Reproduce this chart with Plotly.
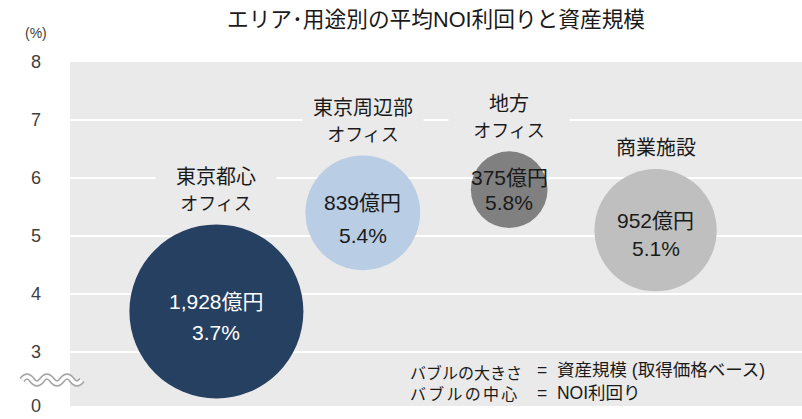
import math
import plotly.graph_objects as go

# ---- data ----
cat_line1 = ["東京都心", "東京周辺部", "地方", "商業施設"]
cat_line2 = ["オフィス", "オフィス", "オフィス", ""]
asset_oku = [1928, 839, 375, 952]          # 資産規模（億円）
noi_yield = [3.7, 5.4, 5.8, 5.1]           # NOI利回り（%）
tick_vals = [3, 4, 5, 6, 7, 8]
tick_text = ["3", "4", "5", "6", "7", "8"]
axis_floor_label = "0"

# ---- styles ----
colors = ["#264061", "#B9CDE5", "#808080", "#BFBFBF"]
text_colors = ["#FFFFFF", "#1A1A1A", "#1A1A1A", "#1A1A1A"]
amount_shift = [10, 10, 12, 10]
pct_shift = [-21, -23, -13, -18]
SIZEREF = 0.1274
FONT = "Liberation Sans, Arial, 'Noto Sans CJK JP', sans-serif"
PLOT_BG = "#EAEAEA"
Y_BOTTOM = 2.07
L, T, W, H = 70, 62, 732, 344   # plot area in px

xpos = list(range(1, len(cat_line1) + 1))

fig = go.Figure()
fig.add_trace(go.Scatter(
    x=xpos, y=noi_yield, mode="markers",
    marker=dict(size=asset_oku, sizemode="area", sizeref=SIZEREF,
                color=colors, opacity=1, line=dict(width=0)),
    hoverinfo="skip", showlegend=False,
))

ann = []
for x, y, v, c1, c2, tc, a_s, p_s in zip(xpos, noi_yield, asset_oku, cat_line1,
                                         cat_line2, text_colors, amount_shift, pct_shift):
    r = math.sqrt(v / (2 * SIZEREF))
    ann.append(dict(x=x, y=y, text=f"{v:,}億円", showarrow=False, yshift=a_s,
                    font=dict(size=21, color=tc, family=FONT)))
    ann.append(dict(x=x, y=y, text=f"{y:.1f}%", showarrow=False, yshift=p_s,
                    font=dict(size=21, color=tc, family=FONT)))
    label = c1 if not c2 else f"{c1}<br><span style=\"font-size:18px\">{c2}</span>"
    ann.append(dict(x=x, y=y, text=label, showarrow=False, yanchor="bottom",
                    yshift=r + 8, width=118, bgcolor=PLOT_BG,
                    font=dict(size=20, color="#1A1A1A", family=FONT)))

# axis unit
ann.append(dict(xref="paper", yref="paper", x=0, y=1, xanchor="center",
                yanchor="bottom", xshift=-34, yshift=19, text="(%)",
                showarrow=False, font=dict(size=14, color="#404040", family=FONT)))
# note
gap = "<span style=\"font-size:8px\"> </span>"
ann.append(dict(xref="paper", yref="paper", x=0, y=0, xanchor="left",
                yanchor="bottom", xshift=338, yshift=1, align="left",
                text="バブルの大きさ<br>" + gap.join("バブルの中心"),
                showarrow=False, font=dict(size=16, color="#1A1A1A", family=FONT)))
ann.append(dict(xref="paper", yref="paper", x=0, y=0, xanchor="left",
                yanchor="bottom", xshift=465, yshift=1, align="left",
                text="=  資産規模 (取得価格ベース)<br>=  NOI利回り", showarrow=False,
                font=dict(size=17.5, color="#1A1A1A", family=FONT)))


# axis break mark (decoration, px -> paper coordinates)
def px(xp, yp):
    return f"{(xp - L) / W:.5f},{(T + H - yp) / H:.5f}"


x0, yc, amp = 22, 380, 3.4
d = f"M {px(x0, yc)} Q {px(x0 + 5, yc - 2 * amp)} {px(x0 + 10, yc)}"
for k in range(2, 7):
    d += f" T {px(x0 + 10 * k, yc)}"
shapes = [
    dict(type="path", xref="paper", yref="paper", path=d, layer="above",
         line=dict(color="#A6A6A6", width=6.5)),
    dict(type="path", xref="paper", yref="paper", path=d, layer="above",
         line=dict(color="white", width=3.3)),
]

fig.update_layout(
    width=802, height=419,
    margin=dict(l=L, r=802 - L - W, t=T, b=419 - T - H),
    paper_bgcolor="white", plot_bgcolor=PLOT_BG,
    title=dict(text="エリア･用途別の平均NOI利回りと資産規模", x=(L + W / 2) / 802,
               xanchor="center", y=1 - 19 / 419, yanchor="middle", yref="container",
               font=dict(size=21.7, color="#1A1A1A", family=FONT)),
    xaxis=dict(range=[0, 5], showgrid=False, zeroline=False, showticklabels=False,
               showline=False, fixedrange=True),
    yaxis=dict(range=[Y_BOTTOM, 8], tickvals=[Y_BOTTOM] + tick_vals,
               ticktext=[axis_floor_label] + tick_text,
               showgrid=True, gridcolor="white", gridwidth=2, zeroline=False,
               showline=False, ticks="", ticklabelstandoff=28, fixedrange=True,
               tickfont=dict(size=18, color="#404040", family=FONT)),
    annotations=ann, shapes=shapes,
    font=dict(family=FONT),
)

fig.write_html("out.html", config={"displayModeBar": False},
               post_script="document.body.style.margin='0';")
